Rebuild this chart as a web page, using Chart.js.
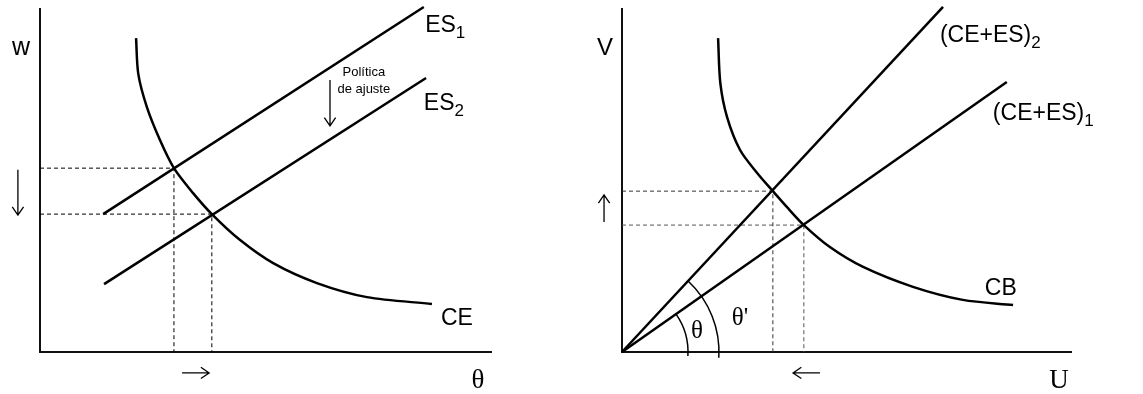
<!DOCTYPE html>
<html>
<head>
<meta charset="utf-8">
<script src="https://cdn.jsdelivr.net/npm/chart.js@4"></script>
<style>
  html, body { margin: 0; padding: 0; background: #fff; }
  .panel { position: absolute; top: 0; height: 394px; }
</style>
</head>
<body>
<div class="panel" style="left:0;width:560px"><canvas id="leftChart" width="560" height="394"></canvas></div>
<div class="panel" style="left:560px;width:583px"><canvas id="rightChart" width="583" height="394"></canvas></div>
<script>
// left panel: w vs theta
const ceTheta = [21.3, 21.8, 23.7, 26.6, 29.7, 33.9, 38.1, 44.3, 51.7, 61.4, 72.5, 86.9];
const ceW = [91.5, 81.0, 71.4, 61.8, 53.6, 46.4, 40.2, 32.7, 25.9, 20.1, 16.0, 14.0];
const es1Theta = [14.0, 85.1];
const es1W = [40.2, 100.6];
const es2Theta = [14.2, 85.6];
const es2W = [19.8, 79.9];
const eqTheta = [29.7, 38.1];
const eqW = [53.6, 40.2];

// right panel: V vs U
const cbU = [21.4, 21.9, 23.4, 26.3, 30.1, 33.6, 36.7, 40.5, 46.3, 53.7, 64.8, 75.9, 87.1];
const cbV = [91.5, 78.4, 68.5, 58.9, 52.2, 46.9, 42.3, 37.0, 30.6, 24.8, 19.0, 15.2, 13.7];
const rayU2 = [0, 71.5];
const rayV2 = [0, 100.6];
const rayU1 = [0, 85.7];
const rayV1 = [0, 78.7];
const eqU = [33.6, 40.5];
const eqV = [46.9, 37.0];

const pts = (xs, ys) => xs.map((x, i) => ({ x: x, y: ys[i] }));

function solid(xs, ys, smooth) {
    return {
        data: pts(xs, ys),
        borderColor: "#000",
        borderWidth: 2.5,
        pointRadius: 0,
        fill: false,
        clip: false,
        tension: smooth ? 0.3 : 0,
    };
}

function guide(x, y, color) {
    return {
        data: [{ x: 0, y: y }, { x: x, y: y }, { x: x, y: 0 }],
        borderColor: color,
        borderWidth: 1,
        borderDash: [4, 3],
        pointRadius: 0,
        fill: false,
        clip: false,
    };
}

const SANS = "'Liberation Sans', Arial, sans-serif";
const SERIF = "'Liberation Serif', 'Times New Roman', serif";

// labels, arrows and angle arcs, placed through the chart scales
const decor = {
    id: "decor",
    afterDatasetsDraw(chart, args, opts) {
        const ctx = chart.ctx;
        const xs = chart.scales.x, ys = chart.scales.y;
        const px = v => xs.getPixelForValue(v), py = v => ys.getPixelForValue(v);
        ctx.save();
        ctx.fillStyle = "#000";
        ctx.strokeStyle = "#000";
        ctx.textBaseline = "alphabetic";
        (opts.texts || []).forEach(t => {
            ctx.font = t.font;
            ctx.textAlign = t.align || "left";
            const x = px(t.x), y = py(t.y);
            ctx.fillText(t.text, x, y);
            if (t.sub) {
                const w = ctx.measureText(t.text).width;
                ctx.font = t.subFont;
                ctx.textAlign = "left";
                ctx.fillText(t.sub, t.align === "center" ? x + w / 2 : x + w, y + 6);
            }
        });
        ctx.lineWidth = 1.3;
        (opts.arrows || []).forEach(a => {
            const x1 = px(a.x1), y1 = py(a.y1), x2 = px(a.x2), y2 = py(a.y2);
            const ang = Math.atan2(y2 - y1, x2 - x1);
            ctx.beginPath();
            ctx.moveTo(x1, y1);
            ctx.lineTo(x2, y2);
            ctx.moveTo(x2 - 10 * Math.cos(ang - 0.6), y2 - 10 * Math.sin(ang - 0.6));
            ctx.lineTo(x2, y2);
            ctx.lineTo(x2 - 10 * Math.cos(ang + 0.6), y2 - 10 * Math.sin(ang + 0.6));
            ctx.stroke();
        });
        ctx.lineWidth = 1.5;
        (opts.arcs || []).forEach(a => {
            const cx = px(0), cy = py(0);
            const ang = Math.atan2(cy - py(a.toY), px(a.toX) - cx);
            ctx.beginPath();
            ctx.arc(cx, cy, a.r, 0.06, -ang, true);
            ctx.stroke();
        });
        ctx.restore();
    },
};

function axes() {
    const ax = {
        type: "linear",
        min: 0,
        max: 100,
        grid: { display: false },
        ticks: { display: false },
        border: { display: true, color: "#111", width: 2 },
    };
    return { x: Object.assign({}, ax), y: Object.assign({}, ax) };
}

const big = "23px " + SANS;
const sub = "17px " + SANS;

new Chart(document.getElementById("leftChart").getContext("2d"), {
    type: "line",
    data: {
        datasets: [
            solid(ceTheta, ceW, true),
            solid(es1Theta, es1W, false),
            solid(es2Theta, es2W, false),
            guide(eqTheta[0], eqW[0], "#000"),
            guide(eqTheta[1], eqW[1], "#000"),
        ],
    },
    options: {
        responsive: false,
        animation: false,
        scales: axes(),
        layout: { padding: { left: 32, right: 69, top: 9, bottom: 34 } },
        plugins: {
            legend: { display: false },
            tooltip: { enabled: false },
            decor: {
                texts: [
                    { text: "w", x: -4.2, y: 86.6, font: "25px " + SANS, align: "center" },
                    { text: "ES", sub: "1", x: 85.4, y: 93.3, font: big, subFont: sub },
                    { text: "ES", sub: "2", x: 85.1, y: 70.6, font: big, subFont: sub },
                    { text: "CE", x: 88.9, y: 7.9, font: big },
                    { text: "θ", x: 97.1, y: -10.5, font: "27px " + SERIF, align: "center" },
                    { text: "Política", x: 71.8, y: 80.5, font: "13px " + SANS, align: "center" },
                    { text: "de ajuste", x: 71.8, y: 75.5, font: "13px " + SANS, align: "center" },
                ],
                arrows: [
                    { x1: 64.3, y1: 79.3, x2: 64.3, y2: 65.9 },
                    { x1: -4.9, y1: 53.1, x2: -4.9, y2: 39.9 },
                    { x1: 31.5, y1: -6.1, x2: 37.5, y2: -6.1 },
                ],
            },
        },
    },
    plugins: [decor],
});

new Chart(document.getElementById("rightChart").getContext("2d"), {
    type: "line",
    data: {
        datasets: [
            solid(cbU, cbV, true),
            solid(rayU2, rayV2, false),
            solid(rayU1, rayV1, false),
            guide(eqU[0], eqV[0], "#333"),
            guide(eqU[1], eqV[1], "#555"),
        ],
    },
    options: {
        responsive: false,
        animation: false,
        scales: axes(),
        layout: { padding: { left: 54, right: 72, top: 9, bottom: 34 } },
        plugins: {
            legend: { display: false },
            tooltip: { enabled: false },
            decor: {
                texts: [
                    { text: "V", x: -3.8, y: 86.6, font: "24px " + SANS, align: "center" },
                    { text: "(CE+ES)", sub: "2", x: 70.8, y: 90.4, font: big, subFont: sub },
                    { text: "(CE+ES)", sub: "1", x: 82.6, y: 67.6, font: big, subFont: sub },
                    { text: "CB", x: 80.8, y: 16.6, font: big },
                    { text: "θ", x: 16.7, y: 4.1, font: "25px " + SERIF, align: "center" },
                    { text: "θ'", x: 26.3, y: 7.9, font: "25px " + SERIF, align: "center" },
                    { text: "U", x: 97.3, y: -10.5, font: "27px " + SERIF, align: "center" },
                ],
                arrows: [
                    { x1: -4.0, y1: 37.9, x2: -4.0, y2: 45.8 },
                    { x1: 44.1, y1: -6.1, x2: 38.1, y2: -6.1 },
                ],
                arcs: [
                    { r: 66, toX: rayU1[1], toY: rayV1[1] },
                    { r: 97, toX: rayU2[1], toY: rayV2[1] },
                ],
            },
        },
    },
    plugins: [decor],
});
</script>
</body>
</html>
